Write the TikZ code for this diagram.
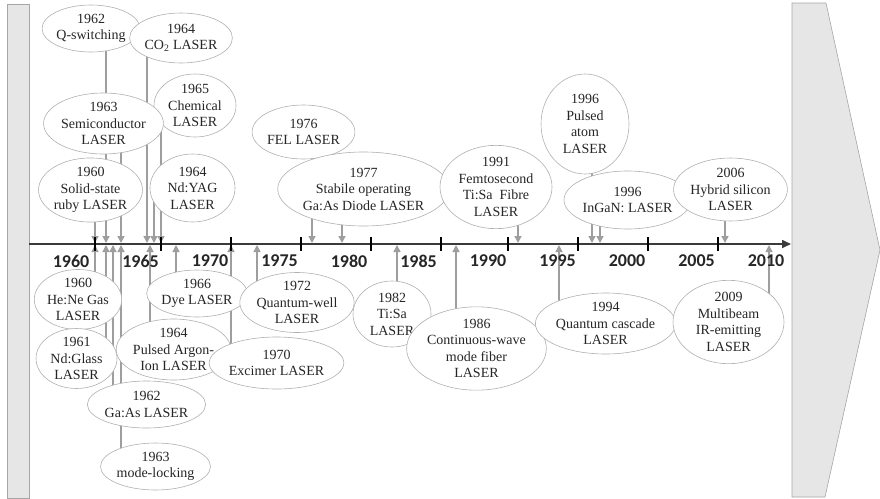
\documentclass[tikz,border=0pt]{standalone}
\usepackage{fontspec}
\setmainfont{Liberation Serif}
\newfontfamily\evtfont{Liberation Serif}
\newfontfamily\yearfont{Carlito}
\usepackage{tikz}
\usetikzlibrary{arrows.meta,shapes.geometric,backgrounds}
\definecolor{ink}{HTML}{262626}
\definecolor{ringgray}{HTML}{B0B0B0}
\definecolor{arrgray}{HTML}{9E9E9E}
\definecolor{bandgray}{HTML}{E6E6E6}
\definecolor{bandedge}{HTML}{A6A6A6}
\definecolor{axisink}{HTML}{3A3A3A}

\begin{document}
\begin{tikzpicture}[x=1pt,y=-1pt,
  evt/.style={ellipse,draw=ringgray,line width=0.6pt,fill=white,inner sep=0pt,
    align=center,text=ink,font=\evtfont\fontsize{14}{16.5}\selectfont},
  evarr/.style={-{Triangle[width=7pt,length=7pt]},color=arrgray,line width=1.4pt},
  axisline/.style={-{Triangle[width=8pt,length=9pt]},color=axisink,line width=1.6pt},
  tickmark/.style={black,line width=2pt},
  yearlbl/.style={font=\yearfont\bfseries\fontsize{18}{18}\selectfont,text=ink,inner sep=0pt},
  band/.style={fill=bandgray,draw=bandedge,line width=0.6pt},
]
  \useasboundingbox (0,0) rectangle (880,498);
  % side bands
  \draw[band] (7,4) rectangle (29,498);
  \draw[band] (792,3) -- (826,3) -- (880,250) -- (825,497) -- (792,497) -- cycle;

  % time axis
  \coordinate (axL) at (29,244);
  \coordinate (axR) at (791,244);
  \draw[axisline] (axL) -- (axR);
  \foreach \tx in {95,161,231,301,371,441,508,578,648,718}
    \draw[tickmark] (\tx,237) -- (\tx,251);
  \foreach \yr [count=\i from 0] in {1960,1965,1970,1975,1980,1985,1990,1995,2000,2005,2010}
    \node[yearlbl] (y\yr) at ({71+69.5*\i},261) {\yr};

  % events above the axis
  \node[evt,minimum width=88pt,minimum height=47pt]  (qsw)    at (91,28.5)    {1962\\Q-switching};
  \node[evt,minimum width=86pt,minimum height=50pt]  (cotwo)  at (181,38)     {1964\\CO\textsubscript{2} LASER};
  \node[evt,minimum width=82pt,minimum height=63pt]  (chem)   at (195,105.5)  {1965\\Chemical\\LASER};
  \node[evt,minimum width=105pt,minimum height=61pt] (semi)   at (103.5,123.5){1963\\Semiconductor\\LASER};
  \node[evt,minimum width=87pt,minimum height=64pt]  (ruby)   at (90.5,190)   {1960\\Solid-state\\ruby LASER};
  \node[evt,minimum width=85pt,minimum height=68pt]  (yag)    at (192.5,188)  {1964\\Nd:YAG\\LASER};
  \node[evt,minimum width=85pt,minimum height=54pt]  (fel)    at (303.5,132)  {1976\\FEL LASER};
  \node[evt,minimum width=141pt,minimum height=74pt] (gaasd)  at (363.5,189)  {1977\\Stabile operating\\Ga:As Diode LASER};
  \node[evt,minimum width=112pt,minimum height=78pt] (femto)  at (496,187)    {1991\\Femtosecond\\Ti:Sa~~Fibre\\LASER};
  \node[evt,minimum width=88pt,minimum height=100pt] (atom)   at (585,124)    {1996\\Pulsed\\atom\\LASER};
  \node[evt,minimum width=99pt,minimum height=58pt]  (ingan)  at (627.5,200)  {1996\\InGaN: LASER};
  \node[evt,minimum width=107pt,minimum height=63pt] (hybrid) at (730.5,189.5){2006\\Hybrid silicon\\LASER};

  % events below the axis
  \node[evt,minimum width=84pt,minimum height=55pt]  (hene)   at (78,299.5)   {1960\\He:Ne Gas\\LASER};
  \node[evt,minimum width=81pt,minimum height=57pt]  (glass)  at (76.5,358.5) {1961\\Nd:Glass\\LASER};
  \node[evt,minimum width=97pt,minimum height=47pt]  (gaas)   at (146.5,404.5){1962\\Ga:As LASER};
  \node[evt,minimum width=99pt,minimum height=47pt]  (mode)   at (155.5,466.5){1963\\mode-locking};
  \node[evt,minimum width=99pt,minimum height=61pt]  (argon)  at (173.5,349.5){1964\\Pulsed Argon-\\Ion LASER};
  \node[evt,minimum width=86pt,minimum height=47pt]  (dye)    at (197,293.5)  {1966\\Dye LASER};
  \node[evt,minimum width=107pt,minimum height=52pt] (excimer)at (276.5,363)  {1970\\Excimer LASER};
  \node[evt,minimum width=96pt,minimum height=55pt]  (qwell)  at (297,302.5)  {1972\\Quantum-well\\LASER};
  \node[evt,minimum width=78pt,minimum height=66pt]  (tisa)   at (392,314)    {1982\\Ti:Sa\\LASER};
  \node[evt,minimum width=107pt,minimum height=81pt] (cwave)  at (476.5,348.5){1986\\Continuous-wave\\mode fiber\\LASER};
  \node[evt,minimum width=115pt,minimum height=61pt] (qcasc)  at (605.5,323.5){1994\\Quantum cascade\\LASER};
  \node[evt,minimum width=111pt,minimum height=82pt] (multi)  at (728.5,322)  {2009\\Multibeam\\IR-emitting\\LASER};

  % pointers to the axis, behind the ellipses
  \begin{pgfonlayer}{background}
    \foreach \ev/\ax in {qsw/106,cotwo/147,chem/161,semi/121,ruby/95,yag/154,
        fel/312,gaasd/342,femto/518,atom/592,ingan/600,hybrid/725}{
      \coordinate (\ev-tip) at (\ax,243);
      \draw[evarr] (\ev.center -| \ev-tip) -- (\ev-tip);
    }
    \foreach \ev/\ax in {hene/95,glass/106,gaas/113,mode/121,argon/150,dye/176,
        excimer/231,qwell/257,tisa/397,cwave/456,qcasc/559,multi/769}{
      \coordinate (\ev-tip) at (\ax,245);
      \draw[evarr] (\ev.center -| \ev-tip) -- (\ev-tip);
    }
  \end{pgfonlayer}
\end{tikzpicture}
\end{document}
